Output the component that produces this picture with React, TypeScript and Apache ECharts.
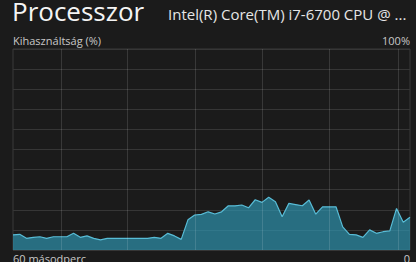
import React, { useEffect, useRef } from "react";
import * as echarts from "echarts";

const titleText = "Processzor";
const cpuName = "Intel(R) Core(TM) i7-6700 CPU @ ...";
const yLabel = "Kihasználtság (%)";
const yMaxLabel = "100%";
const xStartLabel = "60 másodperc";
const xEndLabel = "0";

// CPU utilisation (%) over the last 60 seconds, oldest first
const usage = [
  7.5, 7.8, 5.8, 6.3, 6.6, 5.8, 6.6, 6.6, 6.6, 8.3,
  6.3, 7.0, 5.8, 5.0, 5.8, 5.8, 5.8, 5.8, 5.8, 5.8,
  5.8, 6.3, 5.8, 8.3, 7.0, 5.3, 15.0, 17.4, 17.7, 19.0,
  17.9, 19.0, 22.0, 22.0, 22.4, 21.0, 25.0, 23.7, 26.2, 24.0,
  16.5, 23.2, 22.6, 22.0, 24.9, 17.8, 21.5, 21.5, 21.5, 11.5,
  7.8, 7.5, 6.3, 10.0, 8.3, 9.1, 9.5, 20.7, 13.8, 16.3,
];
// scrolling vertical grid line positions (in sample index units)
const vGrid = [7.1, 17.05, 27.05, 37.0, 47.05, 57.2];

const FONT = "'Open Sans', 'Noto Sans', sans-serif";

export default function App() {
  const ref = useRef<HTMLDivElement>(null);
  useEffect(() => {
    if (!ref.current) return;
    const chart = echarts.init(ref.current, null, { renderer: "svg" });
    const data = usage.map((v, i) => [i, v]);
    chart.setOption({
      animation: false,
      backgroundColor: "#1b1b1b",
      grid: {
        left: 13,
        right: 6,
        top: 49,
        bottom: 12,
        show: true,
        borderColor: "#3a3a3a",
        borderWidth: 1,
      },
      xAxis: {
        type: "value",
        min: 0,
        max: usage.length - 1,
        axisLine: { show: false },
        axisTick: { show: false },
        axisLabel: { show: false },
        splitLine: { show: false },
      },
      yAxis: {
        type: "value",
        min: 0,
        max: 100,
        interval: 10,
        axisLine: { show: false },
        axisTick: { show: false },
        axisLabel: { show: false },
        splitLine: { show: true, lineStyle: { color: "#363636", width: 1 } },
      },
      series: [
        {
          type: "line",
          data,
          symbol: "none",
          lineStyle: { color: "#58bcd6", width: 1.2 },
          areaStyle: { color: "rgba(47,152,180,0.95)" },
          markLine: {
            silent: true,
            symbol: "none",
            label: { show: false },
            lineStyle: { color: "rgba(255,255,255,0.13)", type: "solid", width: 1 },
            data: vGrid.map((x) => ({ xAxis: x })),
          },
        },
      ],
      graphic: [
        {
          type: "text",
          left: 12,
          top: -2,
          style: { text: titleText, fill: "#f4f4f4", font: `26px ${FONT}` },
        },
        {
          type: "text",
          left: 168,
          top: 6,
          style: { text: cpuName, fill: "#e6e6e6", font: `15px ${FONT}` },
        },
        {
          type: "text",
          left: 13,
          top: 35,
          style: { text: yLabel, fill: "#c8c8c8", font: `11px ${FONT}` },
        },
        {
          type: "text",
          right: 6,
          top: 35,
          style: { text: yMaxLabel, fill: "#c8c8c8", font: `11px ${FONT}` },
        },
        {
          type: "text",
          left: 13,
          top: 253,
          style: { text: xStartLabel, fill: "#c8c8c8", font: `11px ${FONT}` },
        },
        {
          type: "text",
          right: 6,
          top: 253,
          style: { text: xEndLabel, fill: "#c8c8c8", font: `11px ${FONT}` },
        },
      ],
    });
    return () => chart.dispose();
  }, []);
  return (
    <div
      ref={ref}
      style={{ width: 416, height: 262, position: "absolute", left: 0, top: 0 }}
    />
  );
}
